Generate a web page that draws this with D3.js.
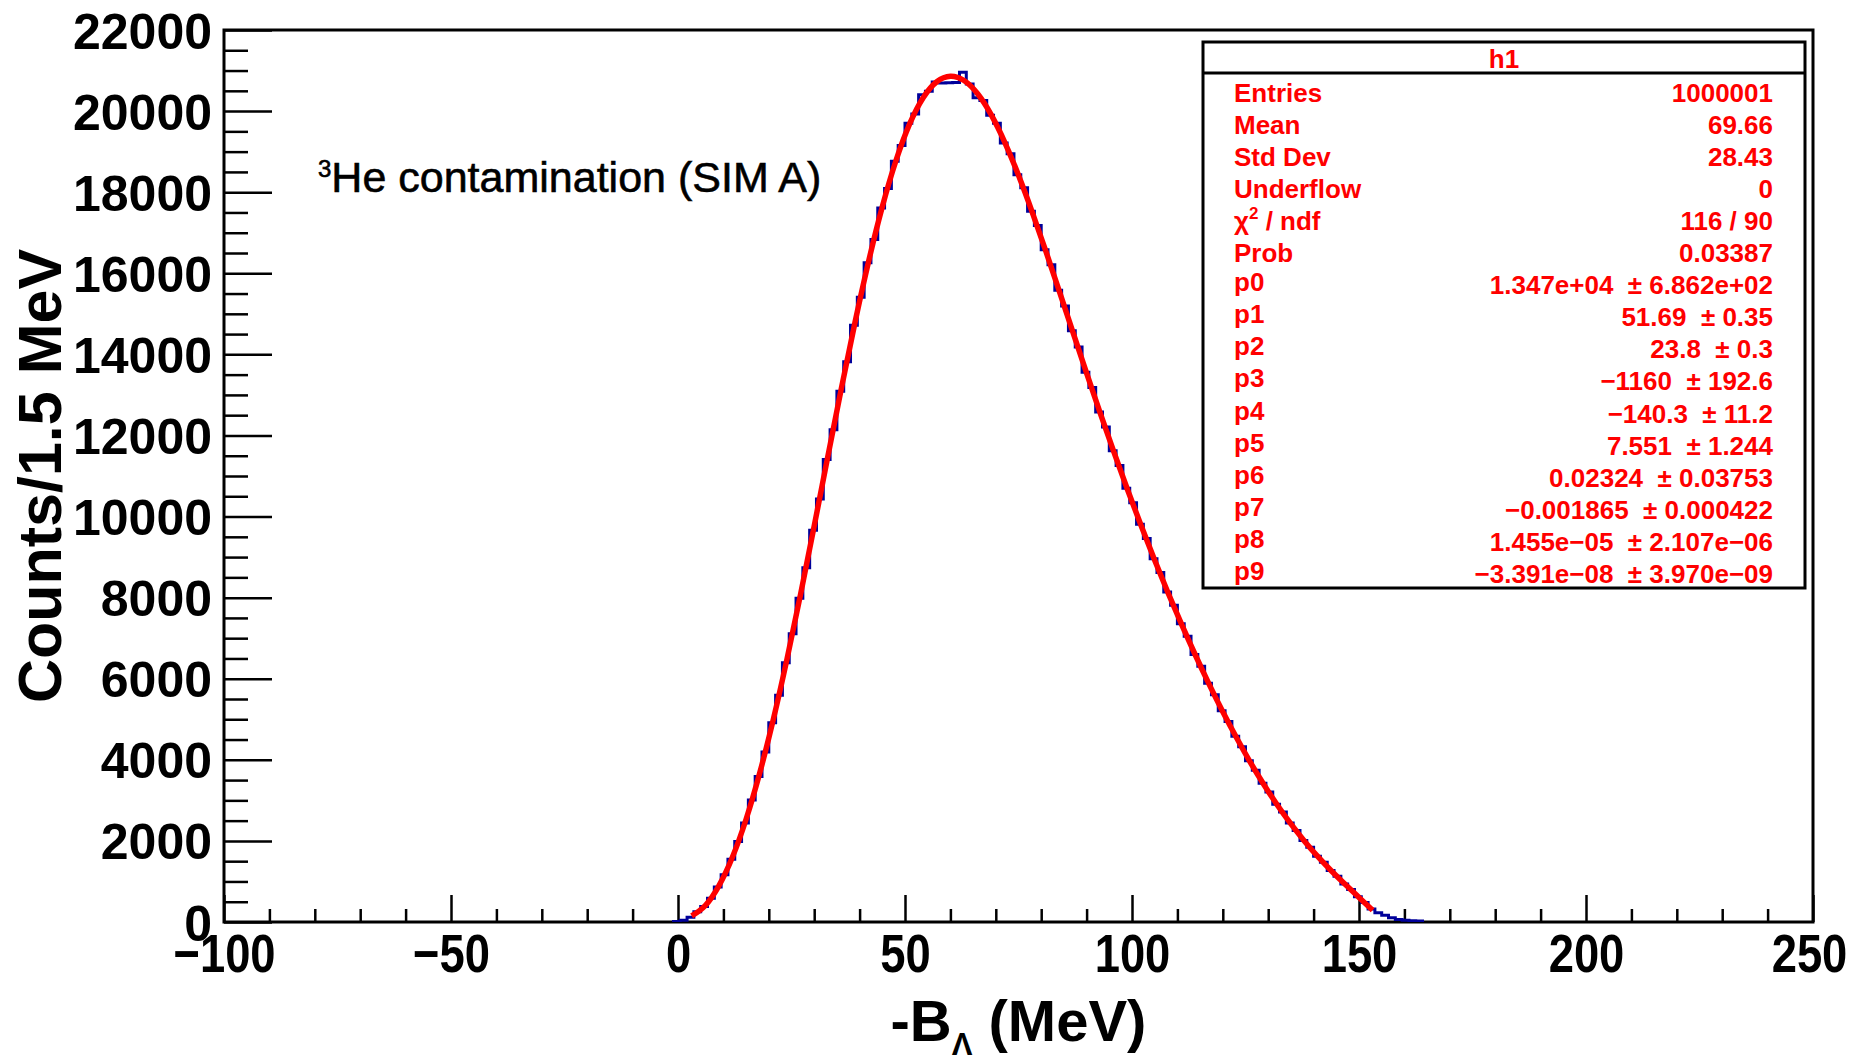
<!DOCTYPE html>
<html><head><meta charset="utf-8">
<script src="https://cdn.jsdelivr.net/npm/d3@7"></script>
<style>
html,body{margin:0;padding:0;background:#fff;}
svg{display:block;}
text{font-family:"Liberation Sans",Arial,Helvetica,sans-serif;}
</style></head><body>
<svg id="c" width="1853" height="1063"></svg>
<script>
// ---------------- data ----------------
const xDomain = [-100, 250];
const yDomain = [0, 22000];
const xMajorTicks = [-100, -50, 0, 50, 100, 150, 200, 250];
const yMajorTicks = [0, 2000, 4000, 6000, 8000, 10000, 12000, 14000, 16000, 18000, 20000, 22000];
const xTitle = ["-B", "\u039B", " (MeV)"];
const yTitle = "Counts/1.5 MeV";
const annotation = ["3", "He contamination (SIM A)"];

// histogram: first bin low edge, bin width, counts per bin
const histFirstEdge = -1;
const histBinWidth = 1.5;
const histCounts = [
  10, 45, 120, 252, 380, 585, 862, 1168, 1550, 1985,
  2440, 3010, 3590, 4190, 4915, 5590, 6395, 7110, 7985, 8740,
  9660, 10430, 11410, 12140, 13090, 13820, 14720, 15410, 16260, 16830,
  17610, 18090, 18760, 19150, 19700, 19930, 20400, 20490, 20720, 20690,
  20700, 20705, 20960, 20670, 20330, 20260, 19900, 19700, 19210, 18950,
  18430, 18110, 17530, 17180, 16580, 16210, 15580, 15190, 14580, 14180,
  13560, 13180, 12580, 12210, 11620, 11260, 10700, 10340, 9810, 9460,
  8960, 8620, 8140, 7810, 7355, 7045, 6600, 6305, 5890, 5605,
  5210, 4945, 4580, 4325, 3980, 3740, 3420, 3205, 2905, 2710,
  2440, 2258, 2012, 1846, 1620, 1472, 1268, 1128, 940, 803,
  625, 480, 322, 228, 168, 104, 62, 44, 32, 22
];

// fitted curve, sampled
const fitX = [3, 6, 9, 12, 15, 18, 21, 24, 27, 30, 33, 36, 39, 42, 45, 48, 51, 54, 57, 60,
  63, 66, 69, 72, 75, 78, 81, 84, 87, 90, 93, 96, 99, 102, 105, 108, 111, 114, 117, 120,
  123, 126, 129, 132, 135, 138, 141, 144, 147, 150, 153];
const fitY = [149, 406, 891, 1602, 2534, 3674, 4998, 6480, 8083, 9765, 11479, 13172, 14796, 16300, 17640, 18775, 19678, 20331, 20724, 20860,
  20754, 20427, 19907, 19225, 18417, 17516, 16552, 15554, 14543, 13538, 12552, 11593, 10668, 9777, 8922, 8104, 7320, 6573, 5861, 5186,
  4550, 3952, 3398, 2886, 2419, 1994, 1604, 1252, 924, 606, 289];

// stats box
const statsTitle = "h1";
const statsLabels = ["Entries", "Mean", "Std Dev", "Underflow", "\u03C7^2 / ndf", "Prob",
  "p0", "p1", "p2", "p3", "p4", "p5", "p6", "p7", "p8", "p9"];
const statsValues = ["1000001", "69.66", "28.43", "0", "116 / 90", "0.03387",
  "1.347e+04  \u00B1 6.862e+02", "51.69  \u00B1 0.35", "23.8  \u00B1 0.3", "\u22121160  \u00B1 192.6",
  "\u2212140.3  \u00B1 11.2", "7.551  \u00B1 1.244", "0.02324  \u00B1 0.03753", "\u22120.001865  \u00B1 0.000422",
  "1.455e\u221205  \u00B1 2.107e\u221206", "\u22123.391e\u221208  \u00B1 3.970e\u221209"];

// ---------------- drawing ----------------
const frame = {left: 224, right: 1813, top: 30, bottom: 922};
const svg = d3.select("#c");
const x = d3.scaleLinear().domain(xDomain).range([frame.left, frame.right]);
const y = d3.scaleLinear().domain(yDomain).range([frame.bottom, frame.top]);

svg.append("rect").attr("width", 1853).attr("height", 1063).attr("fill", "#fff");

const defs = svg.append("defs");
defs.append("clipPath").attr("id", "clip").append("rect")
  .attr("x", frame.left).attr("y", frame.top - 4)
  .attr("width", frame.right - frame.left).attr("height", frame.bottom - frame.top + 4);

function squeeze(sel, f) {
  sel.each(function () {
    const w = this.getComputedTextLength();
    d3.select(this).attr("textLength", w * f).attr("lengthAdjust", "spacingAndGlyphs");
  });
}

// frame
svg.append("rect")
  .attr("x", frame.left).attr("y", frame.top)
  .attr("width", frame.right - frame.left).attr("height", frame.bottom - frame.top)
  .attr("fill", "none").attr("stroke", "#000").attr("stroke-width", 3);

// x axis
const xMinor = d3.range(xDomain[0], xDomain[1] + 0.001, 10).filter(v => Math.abs(v % 50) > 1e-6);
const xAxisMajor = d3.axisBottom(x).tickValues(xMajorTicks).tickSizeInner(-27).tickSizeOuter(0)
  .tickPadding(10).tickFormat(d3.format("d"));
const gx = svg.append("g").attr("transform", `translate(0,${frame.bottom})`).call(xAxisMajor);
gx.select(".domain").remove();
gx.selectAll(".tick line").attr("stroke", "#000").attr("stroke-width", 2.5);
gx.selectAll(".tick text").attr("y", 50).attr("dy", null)
  .attr("font-size", 54).attr("font-weight", "bold").attr("fill", "#000")
  .style("font-family", "'Liberation Sans', Arial, sans-serif");
squeeze(gx.selectAll(".tick text"), 0.84);
// keep the last label inside the page, as in the reference
gx.selectAll(".tick text").filter(d => d === xDomain[1]).attr("x", -4);
const gxm = svg.append("g").attr("transform", `translate(0,${frame.bottom})`)
  .call(d3.axisBottom(x).tickValues(xMinor).tickSizeInner(-13).tickSizeOuter(0).tickFormat(""));
gxm.select(".domain").remove();
gxm.selectAll(".tick line").attr("stroke", "#000").attr("stroke-width", 2.5);

// y axis
const yMinor = d3.range(yDomain[0], yDomain[1] + 0.001, 500).filter(v => v % 2000 !== 0);
const yAxisMajor = d3.axisLeft(y).tickValues(yMajorTicks).tickSizeInner(-48).tickSizeOuter(0)
  .tickPadding(12).tickFormat(d3.format("d"));
const gy = svg.append("g").attr("transform", `translate(${frame.left},0)`).call(yAxisMajor);
gy.select(".domain").remove();
gy.selectAll(".tick line").attr("stroke", "#000").attr("stroke-width", 2.5);
gy.selectAll(".tick text").attr("dy", "0.36em")
  .attr("font-size", 50).attr("font-weight", "bold").attr("fill", "#000")
  .style("font-family", "'Liberation Sans', Arial, sans-serif");
const gym = svg.append("g").attr("transform", `translate(${frame.left},0)`)
  .call(d3.axisLeft(y).tickValues(yMinor).tickSizeInner(-24).tickSizeOuter(0).tickFormat(""));
gym.select(".domain").remove();
gym.selectAll(".tick line").attr("stroke", "#000").attr("stroke-width", 2.5);

// axis titles
const xt = svg.append("text").attr("x", (frame.left + frame.right) / 2).attr("y", 1041)
  .attr("text-anchor", "middle").attr("font-weight", "bold").attr("font-size", 58).attr("fill", "#000");
xt.append("tspan").text(xTitle[0]);
xt.append("tspan").attr("font-size", 31).attr("dy", 14).text(xTitle[1]);
xt.append("tspan").attr("dy", -14).style("white-space", "pre").text(xTitle[2]);

svg.append("text")
  .attr("transform", `translate(61,${(frame.top + frame.bottom) / 2}) rotate(-90)`)
  .attr("text-anchor", "middle").attr("font-weight", "bold").attr("font-size", 61).attr("fill", "#000")
  .text(yTitle);

// annotation
const an = svg.append("text").attr("x", 318).attr("y", 192).attr("fill", "#000")
  .attr("stroke", "#000").attr("stroke-width", 0.6);
an.append("tspan").attr("font-size", 24).attr("dy", -15).text(annotation[0]);
an.append("tspan").attr("font-size", 43).attr("dy", 15).text(annotation[1]);

// histogram
const histPts = [[histFirstEdge, 0]];
histCounts.forEach((c, i) => histPts.push([histFirstEdge + i * histBinWidth, c]));
const lastEdge = histFirstEdge + histCounts.length * histBinWidth;
histPts.push([lastEdge, histCounts[histCounts.length - 1]]);
histPts.push([lastEdge, 0]);
const histLine = d3.line().x(d => x(d[0])).y(d => y(d[1])).curve(d3.curveStepAfter);
svg.append("path").attr("clip-path", "url(#clip)")
  .attr("d", histLine(histPts)).attr("fill", "none")
  .attr("stroke", "#00009a").attr("stroke-width", 3);

// fit
const fitLine = d3.line().x((d, i) => x(fitX[i])).y(d => y(d)).curve(d3.curveNatural);
svg.append("path").attr("clip-path", "url(#clip)")
  .attr("d", fitLine(fitY)).attr("fill", "none")
  .attr("stroke", "#ff0000").attr("stroke-width", 5.5);

// stats box
const box = {x0: 1203, x1: 1805, y0: 42, y1: 588, head: 73};
svg.append("rect").attr("x", box.x0).attr("y", box.y0)
  .attr("width", box.x1 - box.x0).attr("height", box.y1 - box.y0)
  .attr("fill", "#fff").attr("stroke", "#000").attr("stroke-width", 3);
svg.append("line").attr("x1", box.x0).attr("x2", box.x1).attr("y1", box.head).attr("y2", box.head)
  .attr("stroke", "#000").attr("stroke-width", 3);
svg.append("text").attr("x", (box.x0 + box.x1) / 2).attr("y", 68).attr("text-anchor", "middle")
  .attr("font-size", 26).attr("font-weight", "bold").attr("fill", "#ff0000").text(statsTitle);

const rowY = i => 101.5 + i * 32.1;
statsLabels.forEach((lab, i) => {
  const t = svg.append("text").attr("x", 1234).attr("y", rowY(i) - (lab.startsWith("p") && i > 5 ? 3 : 0))
    .attr("font-size", 26).attr("font-weight", "bold").attr("fill", "#ff0000").style("white-space", "pre");
  const parts = lab.split(/\^(\S)/);
  if (parts.length > 1) {
    t.append("tspan").text(parts[0]);
    t.append("tspan").attr("font-size", 17).attr("dy", -11).text(parts[1]);
    t.append("tspan").attr("dy", 11).text(parts[2]);
  } else {
    t.text(lab);
  }
});
statsValues.forEach((v, i) => {
  svg.append("text").attr("x", 1773).attr("y", rowY(i)).attr("text-anchor", "end")
    .attr("font-size", 26).attr("font-weight", "bold").attr("fill", "#ff0000")
    .style("white-space", "pre").text(v);
});
</script>
</body></html>
